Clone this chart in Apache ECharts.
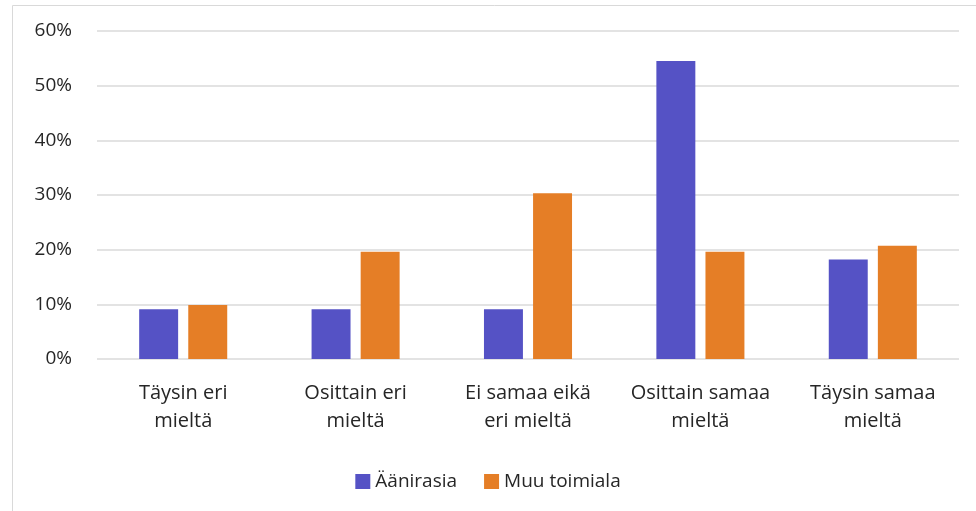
<!DOCTYPE html>
<html>
<head>
    <meta charset="UTF-8">
    <script src="https://cdn.jsdelivr.net/npm/echarts@6/dist/echarts.min.js"></script>
    <style>
        html, body { margin: 0; padding: 0; background: #fff; }
        #main { width: 976px; height: 511px; }
    </style>
</head>
<body>
<div id="main"></div>
<script type="text/javascript">
    var categories = ['Täysin eri\nmieltä', 'Osittain eri\nmieltä', 'Ei samaa eikä\neri mieltä', 'Osittain samaa\nmieltä', 'Täysin samaa\nmieltä'];
    var aanirasia = [9.1, 9.1, 9.1, 54.5, 18.2];
    var muuToimiala = [9.9, 19.6, 30.3, 19.6, 20.7];
    var seriesNames = ['Äänirasia', 'Muu toimiala'];

    var myChart = echarts.init(document.getElementById('main'));
    var font = '"Open Sans", sans-serif';
    var option = {
        animation: false,
        textStyle: { fontFamily: font },
        graphic: [{
            type: 'rect',
            shape: { x: 12.5, y: 5.5, width: 980, height: 520 },
            style: { fill: 'none', stroke: '#d9d9d9', lineWidth: 1 },
            silent: true
        }],
        grid: { left: 97, right: 17, top: 31, bottom: 152 },
        legend: {
            top: 467,
            left: 'center',
            itemWidth: 15,
            itemHeight: 15,
            itemGap: 27,
            icon: 'rect',
            textStyle: { fontSize: 19, color: '#262626', fontFamily: font },
            data: seriesNames
        },
        xAxis: {
            type: 'category',
            data: categories,
            axisLine: { show: false },
            axisTick: { show: false },
            axisLabel: {
                interval: 0,
                hideOverlap: false,
                fontSize: 20,
                color: '#262626',
                margin: 20,
                lineHeight: 28,
                fontFamily: font
            }
        },
        yAxis: {
            type: 'value',
            min: 0,
            max: 60,
            interval: 10,
            axisLabel: {
                formatter: '{value}%',
                fontSize: 19,
                color: '#262626',
                margin: 25,
                fontFamily: font
            },
            splitLine: { lineStyle: { color: '#dadada', width: 1.5 } }
        },
        series: [
            {
                name: seriesNames[0],
                type: 'bar',
                data: aanirasia,
                barWidth: '22.6%',
                barGap: '26%',
                itemStyle: { color: '#5552c5' }
            },
            {
                name: seriesNames[1],
                type: 'bar',
                data: muuToimiala,
                barWidth: '22.6%',
                itemStyle: { color: '#e57e26' }
            }
        ]
    };
    myChart.setOption(option);
</script>
</body>
</html>
